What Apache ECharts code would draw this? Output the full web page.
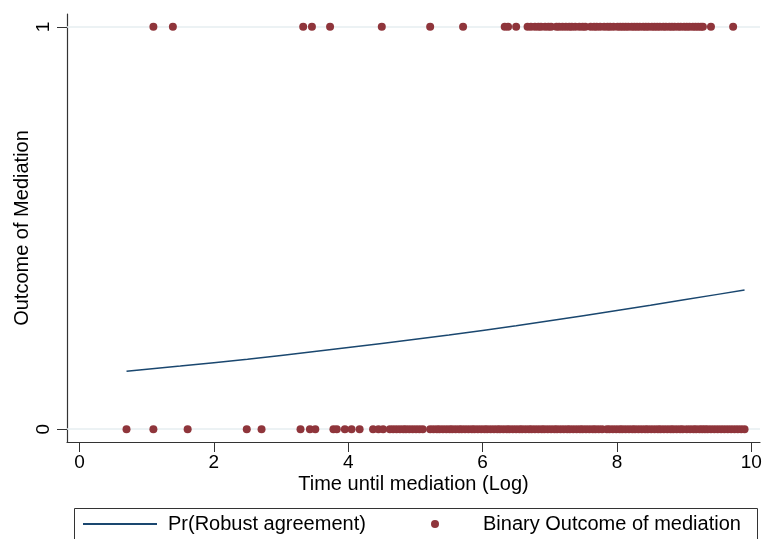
<!DOCTYPE html>
<html>
<head>
<meta charset="utf-8">
<script src="https://cdn.jsdelivr.net/npm/echarts@6/dist/echarts.min.js"></script>
<style>
  html, body { margin: 0; padding: 0; background: #fff; }
  #main { width: 762px; height: 539px; }
</style>
</head>
<body>
<div id="main"></div>
<script>
// tick labels
const xTicks = [0, 2, 4, 6, 8, 10]
const yTicks = [0, 1]

// observed outcome = 1 (x positions)
const agreeX = [1.10, 1.39, 3.33, 3.46, 3.73, 4.50, 5.22, 5.71, 6.33, 6.38, 6.50,
  6.67, 6.72, 6.78, 6.83, 6.87, 6.93, 6.98, 7.02, 7.10, 7.14, 7.19, 7.24, 7.29, 7.33,
  7.38, 7.44, 7.49, 7.53, 7.61, 7.66, 7.70, 7.75, 7.81, 7.86, 7.90, 7.95, 8.01, 8.05,
  8.09, 8.13, 8.17, 8.22, 8.26, 8.30, 8.34, 8.39, 8.43, 8.47, 8.52, 8.56, 8.60, 8.64,
  8.69, 8.73, 8.78, 8.82, 8.86, 8.91, 8.95, 9.00, 9.04, 9.08, 9.13, 9.17, 9.21, 9.25,
  9.28, 9.40, 9.73]

// observed outcome = 0 (x positions)
const noAgreeX = [0.70, 1.10, 1.61, 2.49, 2.71, 3.29, 3.43, 3.51, 3.78, 3.83, 3.95,
  4.05, 4.17, 4.37, 4.45, 4.52, 4.62, 4.67, 4.72, 4.77, 4.82, 4.86, 4.91, 4.96, 5.01,
  5.06, 5.11, 5.22, 5.27, 5.32, 5.36, 5.41, 5.46, 5.51, 5.55, 5.60, 5.65, 5.69, 5.74,
  5.79, 5.84, 5.88, 5.93, 5.98, 6.03, 6.07, 6.12, 6.17, 6.22, 6.26, 6.31, 6.36, 6.40,
  6.45, 6.50, 6.55, 6.59, 6.64, 6.69, 6.73, 6.78, 6.83, 6.88, 6.92, 6.97, 7.02, 7.07,
  7.11, 7.16, 7.21, 7.26, 7.30, 7.35, 7.40, 7.45, 7.49, 7.54, 7.59, 7.64, 7.68, 7.73,
  7.78, 7.85, 7.89, 7.94, 7.99, 8.04, 8.08, 8.13, 8.18, 8.23, 8.27, 8.32, 8.37, 8.42,
  8.46, 8.51, 8.56, 8.61, 8.65, 8.70, 8.75, 8.80, 8.84, 8.89, 8.94, 8.98, 9.04, 9.09,
  9.14, 9.18, 9.23, 9.27, 9.31, 9.35, 9.40, 9.45, 9.50, 9.55, 9.60, 9.65, 9.70, 9.75,
  9.80, 9.85, 9.90]

// predicted probability curve
const fitX = [0.7, 1.5, 2.5, 3.5, 4.5, 5.5, 6.5, 7.5, 8.5, 9.5, 9.9]
const fitY = [0.144, 0.157, 0.174, 0.193, 0.213, 0.234, 0.257, 0.282, 0.308, 0.335, 0.346]

const font = 'Liberation Sans, Arial, Helvetica, sans-serif'
const dotColor = '#8f353b'
const lineColor = '#1a476f'

const option = {
  animation: false,
  backgroundColor: '#fff',
  textStyle: { fontFamily: font },
  grid: { left: 67, right: 2, top: 14, bottom: 97, outerBoundsMode: 'none', containLabel: false },
  xAxis: {
    type: 'value',
    min: -0.186,
    max: 10.13,
    name: 'Time until mediation (Log)',
    nameLocation: 'middle',
    nameGap: 32,
    nameMoveOverlap: false,
    nameTextStyle: { fontSize: 20, color: '#000', fontFamily: font },
    axisLine: { show: true, onZero: false, lineStyle: { color: '#333', width: 1.2 } },
    axisTick: { show: true, customValues: xTicks, length: 10, lineStyle: { color: '#333' } },
    axisLabel: { customValues: xTicks, margin: 11, fontSize: 19, color: '#000', fontFamily: font },
    splitLine: { show: false }
  },
  yAxis: {
    type: 'value',
    min: -0.032,
    max: 1.032,
    name: 'Outcome of Mediation',
    nameLocation: 'middle',
    nameGap: 35,
    nameMoveOverlap: false,
    nameTextStyle: { fontSize: 20, color: '#000', fontFamily: font },
    axisLine: { show: true, onZero: false, lineStyle: { color: '#333', width: 1.2 } },
    axisTick: { show: true, customValues: yTicks, length: 10, lineStyle: { color: '#333' } },
    axisLabel: { customValues: yTicks, rotate: 90, margin: 14, fontSize: 19, color: '#000', fontFamily: font },
    splitLine: { show: false }
  },
  legend: [
    {
      data: [{ name: 'Pr(Robust agreement)', icon: 'rect' }],
      left: 78,
      top: 509,
      itemWidth: 74,
      itemHeight: 2,
      textStyle: { fontSize: 20, color: '#000', fontFamily: font, padding: [0, 0, 0, 6] }
    },
    {
      data: [{ name: 'Binary Outcome of mediation', icon: 'circle' }],
      left: 426,
      top: 509,
      itemWidth: 8,
      itemHeight: 8,
      textStyle: { fontSize: 20, color: '#000', fontFamily: font, padding: [0, 0, 0, 39] }
    }
  ],
  graphic: [
    {
      type: 'rect',
      left: 72,
      top: 506,
      shape: { width: 683, height: 40 },
      style: { fill: 'none', stroke: '#333', lineWidth: 1 },
      silent: true
    }
  ],
  series: [
    {
      name: 'Binary Outcome of mediation',
      type: 'scatter',
      symbol: 'circle',
      symbolSize: 8,
      itemStyle: { color: dotColor, opacity: 1 },
      data: agreeX.map(x => [x, 1]).concat(noAgreeX.map(x => [x, 0])),
      z: 3,
      markLine: {
        silent: true,
        symbol: 'none',
        label: { show: false },
        lineStyle: { color: '#e6eef1', width: 1.5, type: 'solid' },
        data: yTicks.map(v => ({ yAxis: v })),
        z: 1
      }
    },
    {
      name: 'Pr(Robust agreement)',
      type: 'line',
      smooth: true,
      symbol: 'none',
      lineStyle: { color: lineColor, width: 1.5 },
      itemStyle: { color: lineColor },
      data: fitX.map((x, i) => [x, fitY[i]]),
      z: 4
    }
  ]
}

const myChart = echarts.init(document.getElementById('main'))
myChart.setOption(option, true)
window.addEventListener('resize', () => {
  myChart.resize()
})
</script>
</body>
</html>
